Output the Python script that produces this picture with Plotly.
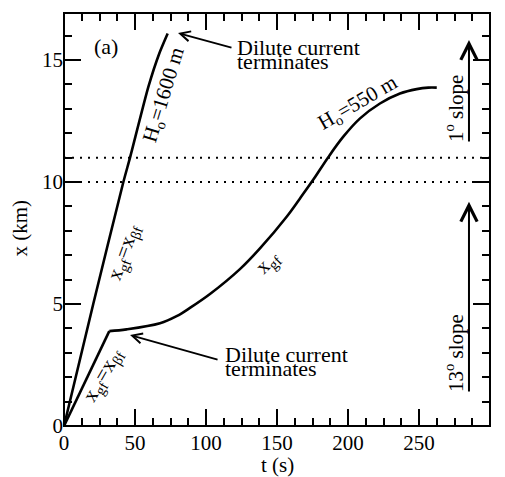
import plotly.graph_objects as go

# --- data ---
t_1600 = [0, 20.6, 41.8, 46.5, 59.4, 67.1, 73.0]
x_1600 = [0, 5.0, 10.0, 11.0, 13.9, 15.27, 16.09]

t_550_early = [0, 31.9]
x_550_early = [0, 3.89]

t_550 = [31.9, 44.1, 67.6, 79.3, 88.7, 102.8, 123.9, 138.0, 156.8, 166.2, 175.6, 186.1,
         196.7, 208.5, 222.5, 236.6, 248.4, 256.6, 262.5]
x_550 = [3.89, 3.96, 4.21, 4.50, 4.84, 5.41, 6.43, 7.28, 8.58, 9.33, 10.1, 11.02,
         11.86, 12.61, 13.22, 13.63, 13.81, 13.87, 13.87]

slope_breaks = [10, 11]

x_ticks = [0, 50, 100, 150, 200, 250, 300]
y_ticks = [0, 5, 10, 15]

FONT = "Liberation Serif"

fig = go.Figure()
fig.add_trace(go.Scatter(x=t_1600, y=x_1600, mode="lines",
                         line=dict(color="black", width=2.6, shape="spline", smoothing=0.6)))
fig.add_trace(go.Scatter(x=t_550_early, y=x_550_early, mode="lines",
                         line=dict(color="black", width=2.6)))
fig.add_trace(go.Scatter(x=t_550, y=x_550, mode="lines",
                         line=dict(color="black", width=2.6, shape="spline", smoothing=1.0)))
# empty trace so the mirrored top / right tick axes get drawn
fig.add_trace(go.Scatter(x=[], y=[], xaxis="x2", yaxis="y2", hoverinfo="skip"))

for yb in slope_breaks:
    fig.add_hline(y=yb, line=dict(color="black", width=2, dash="2px,6px"))

# plot frame
fig.add_shape(type="rect", xref="x domain", yref="y domain", x0=0, x1=1, y0=0, y1=1,
              line=dict(color="black", width=2))

def ann(x, y, text, angle=0, size=22, xanchor="center"):
    fig.add_annotation(x=x, y=y, xref="x", yref="y", text=text, textangle=angle,
                       showarrow=False, xanchor=xanchor, yanchor="middle",
                       font=dict(family=FONT, size=size, color="black"))

def arrow(x, y, ax, ay, width=2, size=1.3):
    fig.add_annotation(x=x, y=y, ax=ax, ay=ay, xref="x", yref="y", axref="x", ayref="y",
                       text="", showarrow=True, arrowhead=5, arrowsize=size,
                       arrowwidth=width, arrowcolor="black", standoff=0, startstandoff=0)

ann(29.6, 15.57, "(a)", size=22)
ann(120.4, 15.52, "Dilute current", xanchor="left")
ann(120.4, 14.95, "terminates", xanchor="left")
arrow(80.3, 16.11, 119.0, 15.49, width=1.8, size=1.1)

ann(112.2, 2.92, "Dilute current", xanchor="left")
ann(112.2, 2.35, "terminates", xanchor="left")
arrow(46.5, 3.73, 109.2, 2.70, width=1.8, size=1.1)

ann(70.4, 13.57, "H<sub>o</sub>=1600 m", angle=-73, size=21)
ann(207.0, 13.24, "H<sub>o</sub>=550 m", angle=-30, size=21)
ann(42.3, 7.13, "x<sub>gf</sub>=x<sub>βf</sub>", angle=-70, size=21)
ann(143.0, 6.70, "x<sub>gf</sub>", angle=-45, size=21)
ann(27.5, 2.09, "x<sub>gf</sub>=x<sub>βf</sub>", angle=-60, size=21)

ann(274.6, 13.03, "1<sup>o</sup> slope", angle=-90, size=21)
ann(274.6, 2.99, "13<sup>o</sup> slope", angle=-90, size=21)
arrow(285.2, 15.82, 285.2, 11.6, width=2, size=1.6)
arrow(285.2, 9.19, 285.2, 1.35, width=2, size=1.6)

fig.add_annotation(x=-0.104, y=0.48, xref="paper", yref="paper", text="x (km)",
                   textangle=-90, showarrow=False, xanchor="center", yanchor="middle",
                   font=dict(family=FONT, size=21, color="black"))
fig.add_annotation(x=0.5, y=-0.094, xref="paper", yref="paper", text="t (s)",
                   showarrow=False, xanchor="center", yanchor="middle",
                   font=dict(family=FONT, size=21, color="black"))

tick_common = dict(ticks="inside", ticklen=17, tickwidth=2, tickcolor="black",
                   showgrid=False, zeroline=False, showline=False,
                   tickfont=dict(family=FONT, size=21, color="black"))
x_minor = dict(dtick=12.5, ticklen=8, tickwidth=2, tickcolor="black",
               ticks="inside", showgrid=False)
y_minor = dict(dtick=1, ticklen=8, tickwidth=2, tickcolor="black",
               ticks="inside", showgrid=False)

fig.update_layout(
    xaxis=dict(range=[0, 300], tickvals=x_ticks, ticktext=[str(v) for v in x_ticks],
               minor=x_minor, ticklabelstandoff=2, **tick_common),
    yaxis=dict(range=[0, 16.93], tickvals=y_ticks, ticktext=[str(v) for v in y_ticks],
               minor=y_minor, **tick_common),
    xaxis2=dict(range=[0, 300], tickvals=x_ticks, overlaying="x", side="top",
                anchor="y", showticklabels=False, minor=x_minor, **tick_common),
    yaxis2=dict(range=[0, 16.93], tickvals=y_ticks, overlaying="y", side="right",
                anchor="x", showticklabels=False, minor=y_minor, **tick_common),
)

# page body has an 8px default margin, so the figure is sized to fit the window
fig.update_layout(width=497, height=469, showlegend=False,
                  margin=dict(l=56, r=15, t=5, b=51),
                  plot_bgcolor="white", paper_bgcolor="white",
                  font=dict(family=FONT, color="black"))

fig.write_html("out.html")
